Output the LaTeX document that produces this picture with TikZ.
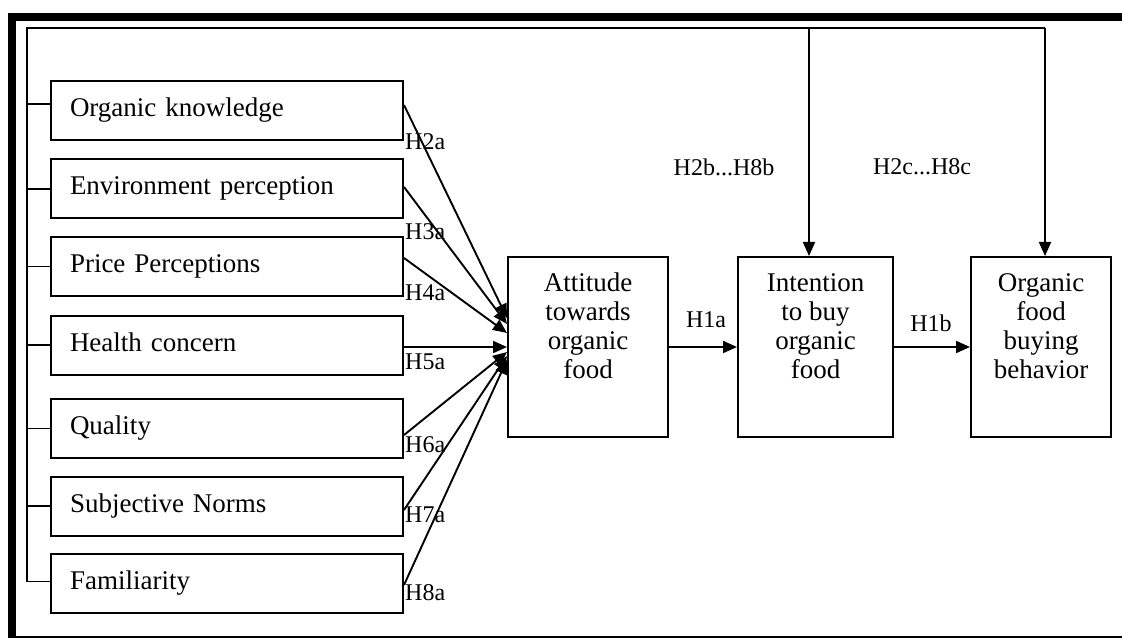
\documentclass[tikz,border=0pt]{standalone}
\usepackage{fontspec}
\setmainfont{Liberation Serif}
\usetikzlibrary{arrows.meta}

\tikzset{
  line/.style={line width=1.9pt, draw=black},
  factor/.style={draw=black, line width=2pt, rectangle, text width=314pt,
    inner xsep=19pt, inner ysep=0pt, minimum height=59pt, align=left,
    text height=18pt, text depth=6pt, font=\fontsize{27pt}{29pt}\selectfont},
  stage/.style={draw=black, line width=2pt, rectangle, inner sep=0pt,
    font=\fontsize{27pt}{29pt}\selectfont},
  hlab/.style={inner sep=0pt, font=\fontsize{24pt}{26pt}\selectfont},
  arr/.style={line, -{Triangle[length=14pt,width=12pt]}},
}

% stacked text inside a fixed-size outcome box
\newcommand{\stagetext}[2]{\parbox[t][180pt][t]{#1}{\centering\rule{0pt}{34pt}#2}}

\begin{document}
\begin{tikzpicture}[x=1pt, y=-1pt]
\useasboundingbox (0,0) rectangle (1122,639);

% outer frame
\fill[black] (8,13) rectangle (1122,21);
\fill[black] (8,13) rectangle (16,638);
\draw[line width=1.5pt] (16,637) -- (1122,637);

% antecedent boxes
\node[factor] (k1) at (227,110.5) {Organic knowledge};
\node[factor] (k2) at (227,189)   {Environment perception};
\node[factor] (k3) at (227,266.5) {Price Perceptions};
\node[factor] (k4) at (227,345)   {Health concern};
\node[factor] (k5) at (227,428.5) {Quality};
\node[factor] (k6) at (227,506)   {Subjective Norms};
\node[factor] (k7) at (227,583.5) {Familiarity};

% outcome boxes
\node[stage] (att) at (588,347)   {\stagetext{160pt}{Attitude\\towards\\organic\\food}};
\node[stage] (int) at (815.5,347) {\stagetext{155pt}{Intention\\to buy\\organic\\food}};
\node[stage] (org) at (1041,347)  {\stagetext{140pt}{Organic\\food\\buying\\behavior}};

% feedback bus along the top and left
\coordinate (tl) at (27,28);
\coordinate (tm) at (809,28);
\coordinate (tr) at (1045,28);
\coordinate (tb) at (27,582);

\draw[line] (tr) -- (tl) -- (tb);
\draw[line] ([yshift=6.5pt]k1.west) -- ([yshift=6.5pt]k1.west -| tl);
\foreach \k in {k2,k3,k4,k5,k6} {
  \draw[line] (\k.west) -- (\k.west -| tl);
}
\draw[line] ([yshift=2pt]k7.west) -- ([yshift=2pt]k7.west -| tl);

\draw[arr] (tm) -- (tm |- int.north);
\draw[arr] (tr) -- (tr |- org.north);

% antecedents to attitude
\draw[arr] ([yshift=5.5pt]k1.east) -- ([yshift=29pt]att.west);
\draw[arr] ([yshift=2pt]k2.east)   -- ([yshift=23pt]att.west);
\draw[arr] ([yshift=8.5pt]k3.east) -- ([yshift=14pt]att.west);
\draw[arr] ([yshift=-2pt]k4.east)  -- (att.west);
\draw[arr] ([yshift=-6.5pt]k5.east) -- ([yshift=-5pt]att.west);
\draw[arr] ([yshift=-4pt]k6.east)  -- ([yshift=-9pt]att.west);
\draw[arr] ([yshift=-1.5pt]k7.east) -- ([yshift=-13pt]att.west);

% main chain
\draw[arr] (att.east) -- (int.west);
\draw[arr] (int.east) -- (org.west);

% hypothesis labels
\node[hlab, anchor=west] (h2a) at (405,142) {H2a};
\node[hlab, anchor=west] (h3a) at (405,232) {H3a};
\node[hlab, anchor=west] (h4a) at (405,293) {H4a};
\node[hlab, anchor=west] (h5a) at (405,362) {H5a};
\node[hlab, anchor=west] (h6a) at (405,445) {H6a};
\node[hlab, anchor=west] (h7a) at (405,515) {H7a};
\node[hlab, anchor=west] (h8a) at (405,593) {H8a};
\node[hlab] (h1a) at (706,320) {H1a};
\node[hlab] (h1b) at (931,323) {H1b};
\node[hlab] (hb) at (724,167) {H2b...H8b};
\node[hlab] (hc) at (922,167) {H2c...H8c};
\end{tikzpicture}
\end{document}
